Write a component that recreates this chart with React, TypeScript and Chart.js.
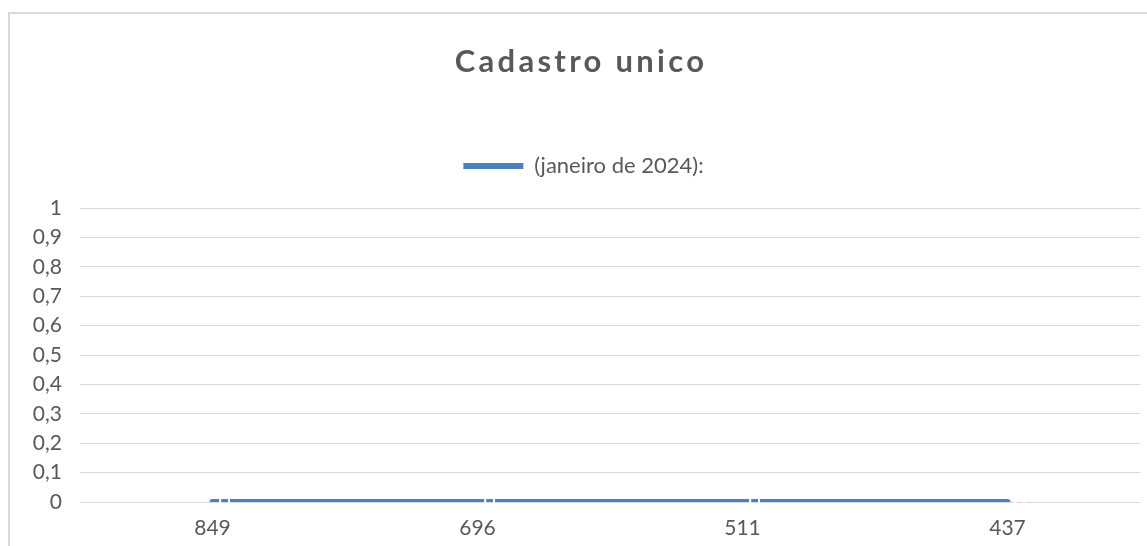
import React, { useEffect, useRef } from "react";
import { Chart, registerables } from "chart.js";

Chart.register(...registerables);

const categories: string[] = ["849", "696", "511", "437"];
const seriesValues: number[] = [0, 0, 0, 0];
const seriesName = "(janeiro de 2024):";
const chartTitle = "Cadastro unico";
const yTickLabels: string[] = ["0", "0,1", "0,2", "0,3", "0,4", "0,5", "0,6", "0,7", "0,8", "0,9", "1"];

const FONT = "Lato, 'Open Sans', sans-serif";
const TEXT = "#595959";
const LINE = "#4e80bd";
const GRID = "#d9d9d9";

const framePlugin = {
  id: "frame",
  beforeDraw(chart: any) {
    const { ctx, width, height } = chart;
    ctx.save();
    ctx.fillStyle = "#ffffff";
    ctx.fillRect(0, 0, width, height);
    ctx.strokeStyle = GRID;
    ctx.lineWidth = 2;
    ctx.strokeRect(9, 13, width + 50, height + 50);
    ctx.restore();
  },
  afterDraw(chart: any) {
    const { ctx } = chart;
    ctx.save();
    ctx.fillStyle = TEXT;
    ctx.font = `bold 31px ${FONT}`;
    (ctx as any).letterSpacing = "3.3px";
    ctx.textAlign = "center";
    ctx.textBaseline = "middle";
    ctx.fillText(chartTitle, 581, 62);
    (ctx as any).letterSpacing = "0px";
    ctx.restore();
  },
};

const labelPlugin = {
  id: "valueLabels",
  afterDatasetsDraw(chart: any) {
    const { ctx } = chart;
    const meta = chart.getDatasetMeta(0);
    ctx.save();
    ctx.fillStyle = "#ffffff";
    ctx.font = `21px ${FONT}`;
    ctx.textAlign = "center";
    ctx.textBaseline = "middle";
    meta.data.forEach((pt: any, i: number) => {
      ctx.fillText(String(seriesValues[i]), pt.x + 12, pt.y);
    });
    ctx.restore();
  },
};

export default function App() {
  const ref = useRef<HTMLCanvasElement | null>(null);
  useEffect(() => {
    if (!ref.current) return;
    const chart = new Chart(ref.current, {
      type: "line",
      data: {
        labels: categories,
        datasets: [
          {
            label: seriesName,
            data: seriesValues,
            borderColor: LINE,
            backgroundColor: LINE,
            borderWidth: 6,
            borderCapStyle: "round",
            pointRadius: 0,
            pointStyle: "line",
            tension: 0,
          },
        ],
      },
      options: {
        animation: false,
        responsive: false,
        layout: { padding: { top: 131, right: 7, left: 27, bottom: 0 } },
        plugins: {
          title: { display: false },
          subtitle: {
            display: true,
            text: "",
            weight: 500,
            font: { size: 1 },
            padding: { top: 0, bottom: 20 },
          } as any,
          legend: {
            display: true,
            labels: {
              color: TEXT,
              font: { family: FONT, size: 22 },
              usePointStyle: true,
              pointStyleWidth: 60,
              boxHeight: 5,
              padding: 24,
            },
          },
          tooltip: { enabled: false },
        },
        scales: {
          x: {
            offset: true,
            grid: { display: false, drawTicks: false },
            border: { display: false },
            ticks: { color: TEXT, font: { family: FONT, size: 21 }, padding: 14 },
            afterFit: (s: any) => {
              s.height = 44;
            },
          },
          y: {
            min: 0,
            max: 1,
            grid: { color: GRID, lineWidth: 1, drawTicks: false },
            border: { display: false },
            ticks: {
              stepSize: 0.1,
              color: TEXT,
              font: { family: FONT, size: 21 },
              padding: 18,
              callback: (_v: any, i: number) => yTickLabels[i],
            },
            afterFit: (s: any) => {
              s.width = 53;
            },
          },
        },
      },
      plugins: [framePlugin, labelPlugin],
    });
    return () => chart.destroy();
  }, []);
  return (
    <div style={{ position: "fixed", left: 0, top: 0, width: 1147, height: 546, overflow: "hidden" }}>
      <canvas ref={ref} width={1147} height={546} style={{ display: "block" }} />
    </div>
  );
}
